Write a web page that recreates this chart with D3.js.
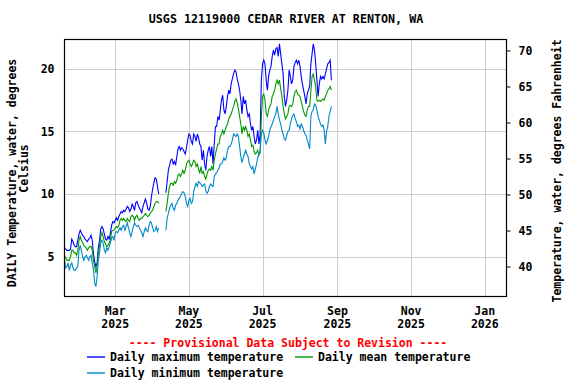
<!DOCTYPE html>
<html><head><meta charset="utf-8">
<script src="https://cdn.jsdelivr.net/npm/d3@7"></script>
<style>
body{margin:0;background:#fff}
svg{display:block}
text{font-family:"DejaVu Sans Mono","Liberation Mono",monospace;font-weight:bold;fill:#000}
</style>
</head><body>
<svg id="chart" width="576" height="384"></svg>
<script>
// ---------------- DATA ----------------
const startDate = "2025-01-18";   // first daily value
const maxT = [
5.7,5.6,5.5,5.5,5.5,5.6,6.4,6.2,5.9,5.8,
5.8,6.3,6.8,7.1,6.9,6.7,6.6,6.4,6.3,6.2,
6.4,6.5,6.7,6.3,5.2,4.6,4.2,4.5,5.7,6.3,
7.2,7.4,7.2,6.8,6.4,6.3,6.6,6.4,6.9,7.5,
7.8,7.7,7.9,8.1,7.9,8.2,8.4,8.6,8.5,8.7,
8.6,8.8,9.0,8.9,8.6,8.8,9.2,9.0,8.7,9.3,
9.4,9.1,8.9,8.7,8.5,9.0,9.3,9.6,9.3,8.8,
8.7,9.0,9.8,10.4,10.9,11.3,11.2,10.6,10.0,null,
null,null,null,null,10.1,11.0,11.9,12.3,12.7,12.8,
12.4,12.6,12.3,13.0,13.6,13.8,13.5,13.7,13.6,13.4,
13.2,13.7,14.3,14.8,14.7,14.2,14.0,14.8,14.6,14.2,
14.8,14.5,14.0,13.8,12.7,13.5,12.4,11.9,13.0,13.5,
13.8,13.0,13.8,12.4,14.0,15.4,15.4,16.2,15.9,16.7,
17.5,17.9,16.7,16.4,17.0,17.8,18.3,18.0,18.8,19.2,
19.6,19.9,19.8,19.2,18.8,18.3,17.5,16.4,17.8,17.2,
17.5,16.7,16.2,16.4,15.6,15.1,15.4,14.6,14.0,14.3,
15.1,14.0,14.8,19.1,20.4,20.7,20.4,19.1,18.3,19.4,
19.9,20.2,21.0,21.5,21.1,21.6,21.7,21.0,22.0,21.2,
20.4,19.6,17.8,17.0,17.5,18.3,19.9,19.4,18.8,19.1,
20.2,20.5,20.7,20.4,20.7,20.2,19.4,18.8,18.3,17.8,
17.2,18.0,18.3,18.6,20.4,21.2,22.0,21.5,20.4,19.1,
17.8,18.8,19.4,19.2,19.4,19.2,19.6,20.0,20.4,20.5,
20.7,19.1
];
const meanT = [
5.05,4.9,4.7,4.7,4.7,5.0,5.5,5.5,5.3,5.3,
5.1,5.5,6.3,6.6,6.3,6.1,5.9,5.8,5.7,5.5,
5.7,5.8,5.8,5.5,4.7,4.2,3.7,4.2,5.3,5.8,
6.6,6.9,6.6,6.2,6.0,5.8,5.9,6.1,6.3,7.0,
7.1,7.1,7.3,7.4,7.3,7.5,7.9,8.05,7.9,8.05,
7.9,7.8,8.05,7.9,7.8,8.2,8.3,8.2,7.9,8.2,
8.3,8.05,7.9,8.05,8.05,8.2,8.3,8.45,8.3,8.2,
8.3,8.45,8.6,8.7,9.0,9.25,9.4,9.4,9.25,null,
null,null,null,null,8.6,9.25,10.05,10.6,10.85,10.85,
10.7,11.0,10.85,11.1,11.5,11.6,11.4,11.6,11.9,11.65,
11.9,12.4,12.6,12.7,12.4,12.2,12.4,12.7,12.6,12.2,
12.4,12.0,11.65,12.2,11.65,11.8,11.4,11.2,11.6,11.9,
12.0,11.9,12.2,11.9,12.7,13.2,13.6,14.0,14.0,14.6,
14.8,15.1,14.8,15.1,15.4,15.6,16.0,16.2,16.4,16.7,
17.0,17.4,17.6,17.3,16.8,16.2,15.6,14.8,15.4,15.1,
15.4,15.1,14.6,14.8,14.3,13.8,13.9,13.4,13.2,13.3,
13.5,13.1,13.3,16.2,17.8,18.0,17.5,16.4,16.2,16.7,
17.0,17.2,17.8,18.0,18.3,18.8,19.1,18.8,19.1,18.4,
17.8,17.0,16.4,16.0,16.2,16.4,17.0,17.1,17.0,17.2,
17.8,18.2,18.3,18.0,17.9,17.8,17.4,17.0,16.6,16.3,
16.2,16.7,17.0,17.0,18.2,19.4,19.6,19.1,18.6,17.5,
17.4,17.5,17.4,17.5,17.6,17.5,17.8,18.0,18.3,18.4,
18.6,18.3
];
const minT = [
4.7,4.1,4.2,4.5,3.9,4.3,4.5,4.1,3.9,3.9,
4.1,4.2,5.5,5.9,5.5,5.0,4.7,5.0,5.1,4.9,
4.7,5.0,5.1,4.5,3.9,2.9,2.6,3.4,4.7,5.3,
6.1,6.3,6.1,5.5,5.3,5.7,5.5,5.8,6.1,6.5,
6.6,6.3,6.9,7.0,6.9,7.1,7.3,7.1,7.4,7.5,
7.1,7.4,7.7,7.3,6.9,6.6,7.0,7.4,7.7,7.5,
7.4,7.5,7.3,7.1,6.9,6.6,7.0,7.3,7.1,7.0,
7.5,7.8,7.7,7.3,7.0,7.1,7.4,7.0,7.3,null,
null,null,null,null,7.1,8.05,8.45,8.85,9.1,9.25,
8.85,8.7,9.1,9.25,9.5,9.65,9.8,10.05,10.2,10.1,
9.8,9.25,9.0,9.5,9.65,9.25,9.4,10.2,10.6,10.85,
10.6,11.0,10.9,10.8,10.6,10.7,10.8,10.3,10.05,10.2,
10.6,10.8,10.7,10.6,11.4,11.6,11.7,11.9,12.1,12.4,
12.4,12.6,12.9,12.7,12.9,13.5,13.8,13.8,14.0,14.3,
14.8,14.7,14.6,14.8,14.6,13.8,13.0,12.5,12.9,13.2,
13.5,13.2,13.0,12.4,12.2,12.0,12.2,11.6,12.0,12.4,
12.9,13.2,13.4,14.8,15.1,14.9,14.3,14.0,14.3,14.6,
15.1,15.4,15.6,15.9,16.2,16.4,17.0,16.4,15.9,15.6,
15.1,14.8,14.4,14.3,14.7,15.0,15.1,15.6,16.0,16.3,
16.4,16.0,15.8,15.4,15.5,15.2,15.6,15.4,15.1,14.8,
14.7,14.3,14.0,13.6,16.2,16.6,16.7,17.2,17.1,16.7,
16.2,15.9,15.6,15.4,15.5,15.1,14.0,15.0,15.4,16.2,
16.6,17.0
];
const xDomain = ["2025-01-18", "2026-01-19"];
const xTickDates = ["2025-03-01","2025-05-01","2025-07-01","2025-09-01","2025-11-01","2026-01-01"];
const xTickMonths = ["Mar","May","Jul","Sep","Nov","Jan"];
const xTickYears = ["2025","2025","2025","2025","2025","2026"];
const yDomainC = [1.81, 22.35];
const yTicksC = [5, 10, 15, 20];
const yDomainF = [35.84, 71.52];
const yTicksF = [40, 45, 50, 55, 60, 65, 70];
const seriesNames = ["Daily maximum temperature","Daily mean temperature","Daily minimum temperature"];
const seriesColors = ["#0000ff","#009900","#0088cc"];
const titleText = "USGS 12119000 CEDAR RIVER AT RENTON, WA";
const leftLabel = ["DAILY Temperature, water, degrees","Celsius"];
const rightLabel = "Temperature, water, degrees Fahrenheit";
const provisionalText = "---- Provisional Data Subject to Revision ----";

// ---------------- CHART ----------------
const svg = d3.select("#chart");
const P = {l: 64.5, r: 506.5, t: 39.5, b: 296.5};
const parse = d3.utcParse("%Y-%m-%d");
const x = d3.scaleUtc().domain(xDomain.map(parse)).range([P.l, P.r]);
const yC = d3.scaleLinear().domain(yDomainC).range([P.b, P.t]);
const yF = d3.scaleLinear().domain(yDomainF).range([P.b, P.t]);
const t0 = parse(startDate);
const dates = maxT.map((_, i) => d3.utcDay.offset(t0, i));

// title
svg.append("text").attr("x", 286).attr("y", 23).attr("text-anchor", "middle")
  .style("font-size", "11.7px").text(titleText);

// grid
const g = svg.append("g");
g.selectAll(".hg").data(yTicksC).enter().append("line")
  .attr("x1", P.l).attr("x2", P.r)
  .attr("y1", d => Math.round(yC(d)) + 0.5).attr("y2", d => Math.round(yC(d)) + 0.5)
  .attr("stroke", "#cccccc").attr("stroke-width", 1);
g.selectAll(".vg").data(xTickDates).enter().append("line")
  .attr("y1", P.t).attr("y2", P.b)
  .attr("x1", d => Math.round(x(parse(d))) + 0.5).attr("x2", d => Math.round(x(parse(d))) + 0.5)
  .attr("stroke", "#cccccc").attr("stroke-width", 1);

// clip
svg.append("clipPath").attr("id", "clip").append("rect")
  .attr("x", P.l).attr("y", P.t).attr("width", P.r - P.l).attr("height", P.b - P.t);

const series = [maxT, meanT, minT];
const lineGen = d3.line().defined(d => d.v != null).x(d => x(d.t)).y(d => yC(d.v));
const lg = svg.append("g").attr("clip-path", "url(#clip)");
series.forEach((s, k) => {
  lg.append("path").datum(s.map((v, i) => ({t: dates[i], v})))
    .attr("d", lineGen).attr("fill", "none")
    .attr("stroke", seriesColors[k]).attr("stroke-width", 1.1);
});

// frame
svg.append("rect").attr("x", P.l).attr("y", P.t).attr("width", P.r - P.l).attr("height", P.b - P.t)
  .attr("fill", "none").attr("stroke", "#000").attr("stroke-width", 1.2);

// left axis
const leftAxis = d3.axisLeft(yC).tickValues(yTicksC).tickSize(0).tickPadding(10);
const la = svg.append("g").attr("transform", `translate(${P.l},0)`).call(leftAxis);
la.select(".domain").remove();
la.selectAll("text").style("font-size", "11.5px").style("font-family", null);

// right axis
const rightAxis = d3.axisRight(yF).tickValues(yTicksF).tickSize(4).tickPadding(8);
const ra = svg.append("g").attr("transform", `translate(${P.r},0)`).call(rightAxis);
ra.select(".domain").remove();
ra.selectAll("line").attr("stroke", "#000");
ra.selectAll("text").style("font-size", "11.5px").style("font-family", null);

// bottom axis
const bottomAxis = d3.axisBottom(x).tickValues(xTickDates.map(parse)).tickSize(0).tickFormat("");
const ba = svg.append("g").attr("transform", `translate(0,${P.b})`).call(bottomAxis);
ba.select(".domain").remove();
xTickDates.forEach((d, i) => {
  const xx = x(parse(d));
  svg.append("text").attr("x", xx).attr("y", 315).attr("text-anchor", "middle")
    .style("font-size", "11.5px").text(xTickMonths[i]);
  svg.append("text").attr("x", xx).attr("y", 328).attr("text-anchor", "middle")
    .style("font-size", "11.5px").text(xTickYears[i]);
});

// axis titles
svg.append("text").attr("transform", "translate(16,173) rotate(-90)").attr("text-anchor", "middle")
  .style("font-size", "11.5px").text(leftLabel[0]);
svg.append("text").attr("transform", "translate(28,168.5) rotate(-90)").attr("text-anchor", "middle")
  .style("font-size", "11.5px").text(leftLabel[1]);
svg.append("text").attr("transform", "translate(561,171) rotate(-90)").attr("text-anchor", "middle")
  .style("font-size", "11.5px").text(rightLabel);

// provisional
svg.append("text").attr("x", 288).attr("y", 347).attr("text-anchor", "middle")
  .style("font-size", "11.5px").style("fill", "#ff0000").text(provisionalText);

// legend
const legendPos = [{x: 87, y: 357}, {x: 295, y: 357}, {x: 87, y: 373}];
const leg = svg.append("g");
seriesNames.forEach((n, k) => {
  const p = legendPos[k];
  leg.append("line").attr("x1", p.x).attr("x2", p.x + 18).attr("y1", p.y).attr("y2", p.y)
    .style("stroke", seriesColors[k]).style("stroke-width", "1.4px");
  leg.append("text").attr("x", p.x + 23).attr("y", p.y + 4).style("font-size", "11.5px").text(n);
});
</script>
</body></html>
